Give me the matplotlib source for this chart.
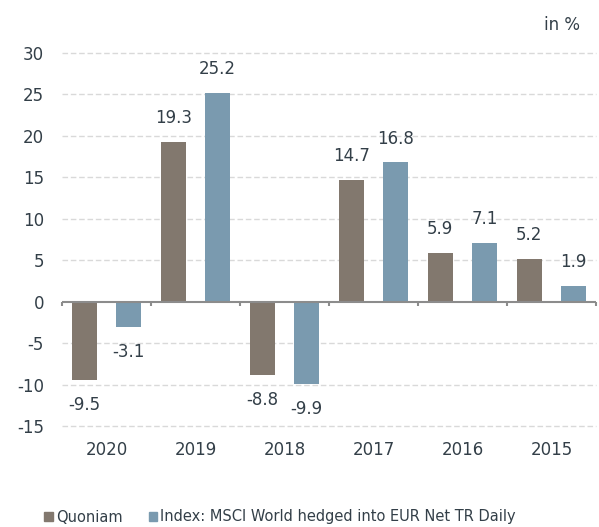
import matplotlib.pyplot as plt
from matplotlib.patches import Patch
import numpy as np

years = ['2020', '2019', '2018', '2017', '2016', '2015']
quoniam = [-9.5, 19.3, -8.8, 14.7, 5.9, 5.2]
index = [-3.1, 25.2, -9.9, 16.8, 7.1, 1.9]
series_names = ['Quoniam', 'Index: MSCI World hedged into EUR Net TR Daily']
yticks = [-15, -10, -5, 0, 5, 10, 15, 20, 25, 30]

c_q = '#82786e'
c_i = '#7a9aaf'
txt = '#333f48'

plt.rcParams['font.family'] = ['DejaVu Sans']

fig = plt.figure(figsize=(5.99, 5.27), dpi=100)
ax = fig.add_axes([62 / 599, 1 - 426 / 527, 534 / 599, 373 / 527])

x = np.arange(len(years))
w = 0.28
off = 0.25
bars_q = ax.bar(x - off, quoniam, w, color=c_q, zorder=3)
bars_i = ax.bar(x + off, index, w, color=c_i, zorder=3)

# value labels
for bars, vals in [(bars_q, quoniam), (bars_i, index)]:
    for b, v in zip(bars, vals):
        dy = 17 if v >= 0 else -18
        ax.annotate(f'{v:.1f}', (b.get_x() + b.get_width() / 2, v),
                    xytext=(0, dy), textcoords='offset points',
                    ha='center', va='center', fontsize=12, color=txt)

ax.set_xlim(-0.5, len(years) - 0.5)
ax.set_ylim(-15, 30)
ax.set_yticks(yticks)
ax.set_yticklabels([str(t) for t in yticks])
ax.set_xticks(x)
ax.set_xticklabels(years)
ax.tick_params(axis='both', length=0, labelsize=12, colors=txt)
ax.tick_params(axis='y', pad=13)
ax.tick_params(axis='x', pad=11)
for s in ax.spines.values():
    s.set_visible(False)

for t in yticks:
    if t != 0:
        ax.axhline(t, color='#d9d9d9', lw=1, ls=(0, (4, 2)), zorder=1,
                   clip_on=False)
ax.axhline(0, color='#8c8c8c', lw=1.5, zorder=4)

# category boundary ticks below the zero line
for b in np.arange(len(years) + 1) - 0.5:
    ax.plot([b, b], [0, -0.55], color='#8c8c8c', lw=1.5, zorder=4,
            solid_capstyle='butt', clip_on=False)

fig.text(580 / 599, 1 - 25 / 527, 'in %', ha='right', va='center',
         fontsize=12, color=txt)

handles = [Patch(color=c_q), Patch(color=c_i)]
fig.legend(handles, series_names, loc='center', bbox_to_anchor=(280 / 599, 1 - 517 / 527),
           ncol=2, frameon=False, fontsize=10.5, handlelength=0.6, handleheight=0.6,
           handletextpad=0.2, columnspacing=1.8, labelcolor=txt)

fig.savefig('out.png', dpi=100)
